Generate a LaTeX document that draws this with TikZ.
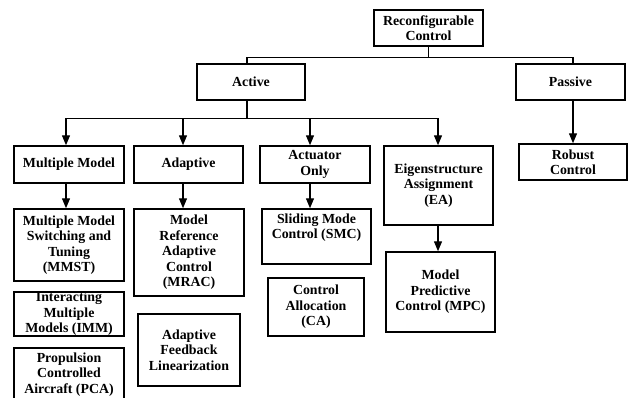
\documentclass[tikz,border=0pt]{standalone}
\usepackage{fontspec}
\setmainfont{Liberation Serif}
\usetikzlibrary{arrows.meta}
\begin{document}
\begin{tikzpicture}[x=0.75pt,y=-0.75pt,
 bx/.style 2 args={draw, line width=1.1pt, minimum width=#1*0.75pt, minimum height=#2*0.75pt, inner sep=0pt, align=center, font=\fontsize{10.4}{11.6}\selectfont\bfseries},
 ln/.style={line width=1pt},
 arr/.style={ln, -{Triangle[length=7.5pt,width=6pt]}}]
\useasboundingbox (0,0) rectangle (628,398);
\clip (0,0) rectangle (628,398);
\node[bx={109}{36}] (rc) at (428.5,28) {Reconfigurable\\Control};
\node[bx={108}{36}] (act) at (251,82) {Active};
\node[bx={109}{36}] (pas) at (570.5,82) {Passive};
\node[bx={110}{37}] (mm) at (69,164.5) {Multiple Model};
\node[bx={109}{37}] (adp) at (188.5,164.5) {Adaptive};
\node[bx={110}{37}] (ao) at (315,164.5) {Actuator\\Only};
\node[bx={109}{79}] (ea) at (438.5,185.5) {Eigenstructure\\Assignment\\(EA)};
\node[bx={108}{36}] (rob) at (573,162) {Robust\\Control};
\node[bx={110}{72}] (mmst) at (69,245) {Multiple Model\\Switching and\\Tuning\\(MMST)};
\node[bx={110}{44}] (imm) at (69,314) {Interacting\\Multiple\\Models (IMM)};
\node[bx={110}{53}] (pca) at (69,374.5) {Propulsion\\Controlled\\Aircraft (PCA)};
\node[bx={110}{87}] (mrac) at (189,252.5) {Model\\Reference\\Adaptive\\Control\\(MRAC)};
\node[bx={102}{72}] (afl) at (189,350) {Adaptive\\Feedback\\Linearization};
\node[bx={109}{55}] (smc) at (316.5,236.5) {Sliding Mode\\Control (SMC)\\\strut};
\node[bx={96}{58}] (ca) at (316,307) {Control\\Allocation\\(CA)};
\node[bx={109}{80}] (mpc) at (440.5,292) {Model\\Predictive\\Control (MPC)};
\draw[ln] (rc.south) -- ++(0,11) coordinate (top);
\draw[ln] ([xshift=-4*0.75pt]act.north) |- (top) -| ([xshift=2.5*0.75pt]pas.north);
\draw[ln] ([xshift=-4*0.75pt]act.south) -- ++(0,18) coordinate (bus);
\draw[arr] (bus) -| ([xshift=-3*0.75pt]mm.north);
\draw[arr] (bus) -| ([xshift=-5.5*0.75pt]adp.north);
\draw[arr] (bus) -| ([xshift=-5*0.75pt]ao.north);
\draw[arr] (bus) -| ([xshift=-0.5*0.75pt]ea.north);
\draw[arr] ([xshift=2.5*0.75pt]pas.south) -- (rob.north);
\draw[arr] ([xshift=-3*0.75pt]mm.south) -- ([xshift=-3*0.75pt]mmst.north);
\draw[arr] ([xshift=-5.5*0.75pt]adp.south) -- ([xshift=-6*0.75pt]mrac.north);
\draw[arr] ([xshift=-5*0.75pt]ao.south) -- ([xshift=-6.5*0.75pt]smc.north);
\draw[arr] ([xshift=-0.5*0.75pt]ea.south) -- ([xshift=-2.5*0.75pt]mpc.north);
\end{tikzpicture}
\end{document}
